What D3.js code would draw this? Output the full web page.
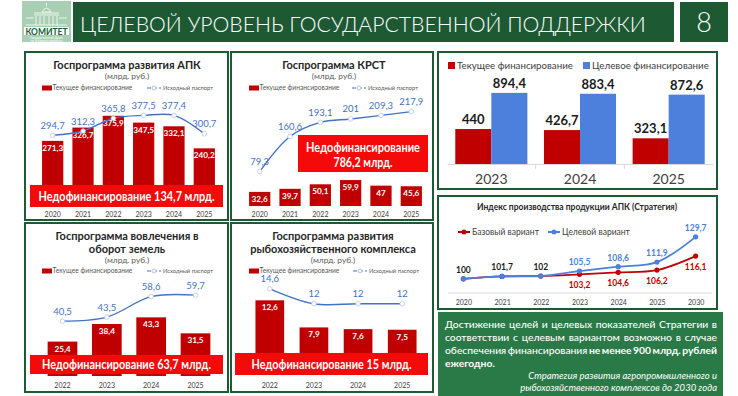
<!DOCTYPE html>
<html>
<head>
<meta charset="utf-8">
<script src="https://cdn.jsdelivr.net/npm/d3@7"></script>
<style>
  body { margin: 0; background: #fff; }
  svg { display: block; font-family: Lato, "Open Sans", sans-serif; }
</style>
</head>
<body>
<div id="chart"></div>
<script>
// ---- data ----
let pageTitle = "ЦЕЛЕВОЙ УРОВЕНЬ ГОСУДАРСТВЕННОЙ ПОДДЕРЖКИ";
let pageNumber = "8";

let apkYears = ["2020", "2021", "2022", "2023", "2024", "2025"];
let apkCurrent = [271.3, 326.7, 375.9, 347.5, 332.1, 240.2];
let apkPassport = [294.7, 312.3, 365.8, 377.5, 377.4, 300.7];

let krstYears = ["2020", "2021", "2022", "2023", "2024", "2025"];
let krstCurrent = [32.6, 39.7, 50.1, 59.9, 47, 45.6];
let krstPassport = [79.3, 160.6, 193.1, 201, 209.3, 217.9];

let landYears = ["2022", "2023", "2024", "2025"];
let landCurrent = [25.4, 38.4, 43.3, 31.5];
let landPassport = [40.5, 43.5, 58.6, 59.7];

let fishYears = ["2022", "2023", "2024", "2025"];
let fishCurrent = [12.6, 7.9, 7.6, 7.5];
let fishPassport = [14.6, 12, 12, 12];

let deficits = ["134,7", "786,2", "63,7", "15"];

let totalYears = ["2023", "2024", "2025"];
let totalCurrent = [440, 426.7, 323.1];
let totalTarget = [894.4, 883.4, 872.6];

let indexYears = ["2020", "2021", "2022", "2023", "2024", "2025", "2030"];
let indexBase = [100, 101.7, 102, 103.2, 104.6, 106.2, 116.1];
let indexTarget = [100, 101.7, 102, 105.5, 108.6, 111.9, 129.7];

// ---- setup ----
let GREEN = "#1d5a34", RED = "#c00000", BRIGHT = "#f50a0a", BLUE = "#4472c4", BLUE2 = "#4d7fdc";
let fmt = v => String(v).replace(".", ",");

let svg = d3.select("#chart").append("svg")
  .attr("width", 738)
  .attr("height", 396);

// scale a text's font size so it spans the given width
function fitWidth(sel, w) {
  let fs = +sel.attr("font-size");
  let cur = sel.node().getComputedTextLength();
  if (cur > 0) sel.attr("font-size", (fs * w / cur).toFixed(2));
  return sel;
}

// header
let logo = svg.append("g");
logo.append("rect").attr("x", 22).attr("y", 1).attr("width", 49).attr("height", 41).attr("fill", "#a8cfb3");
logo.append("path")
  .attr("d", "M42,12 Q46.5,4 51,12 Z M34,13 H59 M34,15 H59 M36,16 V25 M40,16 V25 M44,16 V25 M49,16 V25 M53,16 V25 M57,16 V25 M26,18 H34 M59,18 H67 M26,25 H67 M46.5,3 V6")
  .attr("fill", "none").attr("stroke", "#fff").attr("stroke-width", 0.8);
logo.append("rect").attr("x", 24).attr("y", 27).attr("width", 45).attr("height", 8).attr("fill", "#fff");
logo.append("text").attr("x", 46.5).attr("y", 34.5).attr("text-anchor", "middle")
  .attr("font-size", 8.5).attr("font-weight", "bold").attr("fill", GREEN).text("КОМИТЕТ");
logo.append("text").attr("x", 46.5).attr("y", 38.5).attr("text-anchor", "middle")
  .attr("font-size", 3).attr("fill", "#fff").text("Государственной Думы");
logo.append("text").attr("x", 46.5).attr("y", 41.5).attr("text-anchor", "middle")
  .attr("font-size", 3).attr("fill", "#fff").text("по аграрным вопросам");

svg.append("rect").attr("x", 73).attr("y", 2).attr("width", 601).attr("height", 40).attr("fill", GREEN);
fitWidth(svg.append("text").attr("x", 80).attr("y", 32)
  .attr("fill", "#fff").attr("font-size", 27).attr("font-weight", 300)
  .text(pageTitle), 566);
svg.append("rect").attr("x", 680).attr("y", 2).attr("width", 48).attr("height", 40).attr("fill", GREEN);
svg.append("text").attr("x", 704).attr("y", 32).attr("text-anchor", "middle")
  .attr("fill", "#fff").attr("font-size", 27).attr("font-weight", 300).text(pageNumber);

function panelBox(x0, y0, x1, y1) {
  svg.append("rect").attr("x", x0).attr("y", y0).attr("width", x1 - x0).attr("height", y1 - y0)
    .attr("fill", "#fff").attr("stroke", GREEN).attr("stroke-width", 2);
}

// bar + line panel used four times
function comboPanel(p) {
  panelBox(p.box[0], p.box[1], p.box[2], p.box[3]);
  let g = svg.append("g");

  let x = d3.scaleBand().domain(p.years).range(p.xr).padding(p.pad);
  let y = d3.scaleLinear().domain(p.yd).range(p.yr);

  // title + units
  p.title.forEach((t, i) => {
    g.append("text").attr("x", p.cx).attr("y", p.ty + i * 13).attr("text-anchor", "middle")
      .attr("font-size", 11).attr("font-weight", "bold").attr("fill", "#262626").text(t);
  });
  g.append("text").attr("x", p.cx).attr("y", p.uy).attr("text-anchor", "middle")
    .attr("font-size", 8.3).attr("fill", "#595959").text("(млрд. руб.)");

  // legend
  let [rx, ly, mx] = p.leg;
  g.append("rect").attr("x", rx).attr("y", ly - 2.5).attr("width", 10).attr("height", 5).attr("fill", RED);
  fitWidth(g.append("text").attr("x", rx + 10.5).attr("y", ly + 2.4).attr("font-size", 7).attr("fill", "#595959").text("Текущее финансирование"), 80);
  g.append("line").attr("x1", mx).attr("x2", mx + 14).attr("y1", ly).attr("y2", ly)
    .attr("stroke", BLUE).attr("stroke-width", 1.2).attr("stroke-dasharray", "4,2");
  g.append("circle").attr("cx", mx + 7).attr("cy", ly).attr("r", 2).attr("fill", "#fff").attr("stroke", "#9db5e3").attr("stroke-width", 0.8);
  fitWidth(g.append("text").attr("x", mx + 16).attr("y", ly + 2.4).attr("font-size", 7).attr("fill", "#595959").text("Исходный паспорт"), 50);

  // bars
  g.selectAll(".bar").data(p.current).enter().append("rect")
    .attr("x", (d, i) => x(p.years[i]))
    .attr("y", d => y(d))
    .attr("width", x.bandwidth())
    .attr("height", d => y(0) - y(d))
    .attr("fill", RED);

  // under-funding banner (narrowed glyphs, like the original condensed face)
  let b = p.banner;
  g.append("rect").attr("x", b[0]).attr("y", b[1]).attr("width", b[2] - b[0]).attr("height", b[3] - b[1]).attr("fill", BRIGHT);
  p.bannerText.forEach((t, i) => {
    g.append("text").attr("x", (b[0] + b[2]) / 2).attr("y", p.bannerY + i * 15).attr("text-anchor", "middle")
      .attr("font-size", 12.5).attr("font-weight", "bold").attr("fill", "#fff")
      .attr("textLength", p.bannerW[i]).attr("lengthAdjust", "spacingAndGlyphs")
      .text(t);
  });

  // bar labels
  g.selectAll(".blab").data(p.current).enter().append("text")
    .attr("x", (d, i) => x(p.years[i]) + x.bandwidth() / 2)
    .attr("y", d => y(d) + 10)
    .attr("text-anchor", "middle")
    .attr("font-size", 8.2).attr("font-weight", "bold").attr("fill", "#fff")
    .text(d => fmt(d));

  // passport line
  let line = d3.line()
    .x((d, i) => x(p.years[i]) + x.bandwidth() / 2)
    .y(d => y(d))
    .curve(d3.curveCatmullRom);
  g.append("path").datum(p.passport).attr("d", line)
    .attr("fill", "none").attr("stroke", BLUE).attr("stroke-width", 1.4);
  g.selectAll(".pt").data(p.passport).enter().append("circle")
    .attr("cx", (d, i) => x(p.years[i]) + x.bandwidth() / 2)
    .attr("cy", d => y(d))
    .attr("r", 2.3).attr("fill", "#fff").attr("stroke", "#b4c7e7").attr("stroke-width", 0.8);
  g.selectAll(".plab").data(p.passport).enter().append("text")
    .attr("x", (d, i) => x(p.years[i]) + x.bandwidth() / 2)
    .attr("y", d => y(d) - 6.5)
    .attr("text-anchor", "middle")
    .attr("font-size", 9.5).attr("fill", BLUE)
    .text(d => fmt(d));

  // year labels
  g.selectAll(".yr").data(p.years).enter().append("text")
    .attr("x", d => x(d) + x.bandwidth() / 2)
    .attr("y", p.yearY)
    .attr("text-anchor", "middle")
    .attr("font-size", 7).attr("fill", "#404040")
    .text(d => d);
}

comboPanel({
  box: [25, 52, 228, 220], years: apkYears, current: apkCurrent, passport: apkPassport,
  xr: [33, 224], pad: 0.3, yd: [0, 500], yr: [206, 86],
  title: ["Госпрограмма развития АПК"], cx: 127, ty: 69, uy: 79, leg: [42, 88, 147],
  banner: [30, 185, 223, 207], bannerText: ["Недофинансирование " + deficits[0] + " млрд."], bannerY: 200.5, bannerW: [176],
  yearY: 217
});
comboPanel({
  box: [231, 52, 433, 220], years: krstYears, current: krstCurrent, passport: krstPassport,
  xr: [240, 431], pad: 0.3, yd: [0, 250], yr: [206, 97.75],
  title: ["Госпрограмма КРСТ"], cx: 334, ty: 69, uy: 79, leg: [249, 88, 352],
  banner: [298, 135, 428, 172], bannerText: ["Недофинансирование", deficits[1] + " млрд."], bannerY: 151.5, bannerW: [114, 59],
  yearY: 217
});
comboPanel({
  box: [25, 223, 228, 392], years: landYears, current: landCurrent, passport: landPassport,
  xr: [33, 225], pad: 0.33, yd: [0, 70], yr: [376, 281.2],
  title: ["Госпрограмма вовлечения в", "оборот земель"], cx: 127, ty: 240, uy: 263, leg: [42, 271, 147],
  banner: [30, 355, 223, 374], bannerText: ["Недофинансирование " + deficits[2] + " млрд."], bannerY: 369, bannerW: [169],
  yearY: 388
});
comboPanel({
  box: [231, 223, 433, 392], years: fishYears, current: fishCurrent, passport: fishPassport,
  xr: [240, 432], pad: 0.35, yd: [0, 16], yr: [373, 280.7],
  title: ["Госпрограмма развития", "рыбохозяйственного комплекса"], cx: 333, ty: 240, uy: 263, leg: [249, 271, 353],
  banner: [235, 353, 428, 375], bannerText: ["Недофинансирование " + deficits[3] + " млрд."], bannerY: 368.5, bannerW: [160],
  yearY: 388
});

// ---- total financing panel ----
panelBox(438, 52, 717, 189);
let g3 = svg.append("g");
let x3 = d3.scaleBand().domain(totalYears).range([447, 713]);
let inner = d3.scaleBand().domain(["cur", "tgt"]).range([0, x3.bandwidth()]).paddingOuter(0.23);
let y3 = d3.scaleLinear().domain([0, 1000]).range([164, 84.5]);

g3.append("rect").attr("x", 448).attr("y", 62).attr("width", 7).attr("height", 7).attr("fill", RED);
fitWidth(g3.append("text").attr("x", 457).attr("y", 69).attr("font-size", 10).attr("fill", "#404040").text("Текущее финансирование"), 116);
g3.append("rect").attr("x", 583).attr("y", 62).attr("width", 7).attr("height", 7).attr("fill", BLUE2);
fitWidth(g3.append("text").attr("x", 592).attr("y", 69).attr("font-size", 10).attr("fill", "#404040").text("Целевое финансирование"), 117);

let series3 = [["cur", totalCurrent, RED], ["tgt", totalTarget, BLUE2]];
series3.forEach(([key, vals, col]) => {
  g3.selectAll(".b" + key).data(vals).enter().append("rect")
    .attr("x", (d, i) => x3(totalYears[i]) + inner(key))
    .attr("y", d => y3(d))
    .attr("width", inner.bandwidth())
    .attr("height", d => y3(0) - y3(d))
    .attr("fill", col);
  g3.selectAll(".l" + key).data(vals).enter().append("text")
    .attr("x", (d, i) => x3(totalYears[i]) + inner(key) + inner.bandwidth() / 2)
    .attr("y", d => y3(d) - 5)
    .attr("text-anchor", "middle")
    .attr("font-size", 13).attr("font-weight", "bold").attr("fill", "#1a1a1a")
    .text(d => fmt(d));
});

let ax3 = g3.append("g").attr("transform", "translate(0,164)")
  .call(d3.axisBottom(x3).tickSize(0).tickPadding(10));
ax3.select(".domain").attr("stroke", "#d9d9d9");
ax3.selectAll("text").attr("font-size", 14).attr("fill", "#404040").attr("font-family", "Lato, 'Open Sans', sans-serif");
g3.selectAll(".tk").data(totalYears.slice(1)).enter().append("line")
  .attr("x1", d => x3(d)).attr("x2", d => x3(d)).attr("y1", 164).attr("y2", 169)
  .attr("stroke", "#d9d9d9");

// ---- production index panel ----
panelBox(438, 196, 717, 309);
let g6 = svg.append("g");
let x6 = d3.scalePoint().domain(indexYears).range([444, 715]).padding(0.5);
let y6 = d3.scaleLinear().domain([90, 140]).range([293, 222.3]);

fitWidth(g6.append("text").attr("x", 577).attr("y", 210).attr("text-anchor", "middle")
  .attr("font-size", 8.8).attr("font-weight", "bold").attr("fill", "#262626")
  .text("Индекс производства продукции АПК (Стратегия)"), 200);

[[458, RED, "Базовый вариант"], [548, BLUE2, "Целевой вариант"]].forEach(([lx, col, t]) => {
  g6.append("line").attr("x1", lx).attr("x2", lx + 12).attr("y1", 232).attr("y2", 232).attr("stroke", col).attr("stroke-width", 2);
  g6.append("circle").attr("cx", lx + 6).attr("cy", 232).attr("r", 2.5).attr("fill", col);
  g6.append("text").attr("x", lx + 14).attr("y", 235).attr("font-size", 8.5).attr("fill", "#404040").text(t);
});

let ax6 = g6.append("g").attr("transform", "translate(0,293)")
  .call(d3.axisBottom(x6).tickSize(0).tickPadding(7));
ax6.select(".domain").attr("stroke", "#d9d9d9").attr("d", "M448,0H712");
ax6.selectAll("text").attr("font-size", 7).attr("fill", "#404040").attr("font-family", "Lato, 'Open Sans', sans-serif");

let line6 = d3.line().x((d, i) => x6(indexYears[i])).y(d => y6(d)).curve(d3.curveCatmullRom);
[[indexBase, RED], [indexTarget, BLUE2]].forEach(([vals, col]) => {
  g6.append("path").datum(vals).attr("d", line6).attr("fill", "none").attr("stroke", col).attr("stroke-width", 1.8);
  g6.selectAll(null).data(vals).enter().append("circle")
    .attr("cx", (d, i) => x6(indexYears[i])).attr("cy", d => y6(d)).attr("r", 2.6).attr("fill", col);
});

// value labels: shared start in black, then target above / base below
g6.selectAll(".lt").data(indexTarget).enter().append("text")
  .attr("x", (d, i) => x6(indexYears[i]))
  .attr("y", d => y6(d) - 6)
  .attr("text-anchor", "middle")
  .attr("font-size", 8.5).attr("font-weight", "bold")
  .attr("fill", (d, i) => indexBase[i] === d ? "#1a1a1a" : BLUE2)
  .text(d => fmt(d));
g6.selectAll(".lb").data(indexBase).enter().filter((d, i) => indexTarget[i] !== d).append("text")
  .attr("x", (d, i) => x6(indexYears[i + 3]))
  .attr("y", d => y6(d) + 14)
  .attr("text-anchor", "middle")
  .attr("font-size", 8.5).attr("font-weight", "bold").attr("fill", RED)
  .text(d => fmt(d));

// ---- strategy note ----
svg.append("rect").attr("x", 438).attr("y", 312).attr("width", 285).attr("height", 84).attr("fill", "#2a7a47");
let noteLines = [
  { y: 328, just: true, seg: [["Достижение целей и целевых показателей Стратегии в", false]] },
  { y: 341, just: true, seg: [["соответствии с целевым вариантом возможно в случае", false]] },
  { y: 354, just: true, seg: [["обеспечения финансирования", false], ["не менее 900 млрд. рублей", true]] },
  { y: 367, just: false, seg: [["ежегодно.", true]] }
];
let nx0 = 445, nx1 = 717;
noteLines.forEach(l => {
  let words = [];
  l.seg.forEach(([t, bold]) => t.split(" ").forEach(w => words.push({ w, bold })));
  let nodes = words.map(o => svg.append("text").attr("y", l.y).attr("font-size", 10.3)
    .attr("font-weight", o.bold ? "bold" : 500).attr("fill", "#fff").text(o.w));
  let widths = nodes.map(n => n.node().getComputedTextLength());
  let total = d3.sum(widths);
  let gap = l.just && words.length > 1 ? (nx1 - nx0 - total) / (words.length - 1) : 3;
  let cx = nx0;
  nodes.forEach((n, i) => { n.attr("x", cx); cx += widths[i] + gap; });
});
["Стратегия развития агропромышленного и", "рыбохозяйственного комплексов до 2030 года"].forEach((t, i) => {
  svg.append("text").attr("x", 717).attr("y", 379 + i * 12).attr("text-anchor", "end")
    .attr("font-size", 9.5).attr("font-style", "italic").attr("fill", "#fff").text(t);
});
</script>
</body>
</html>
